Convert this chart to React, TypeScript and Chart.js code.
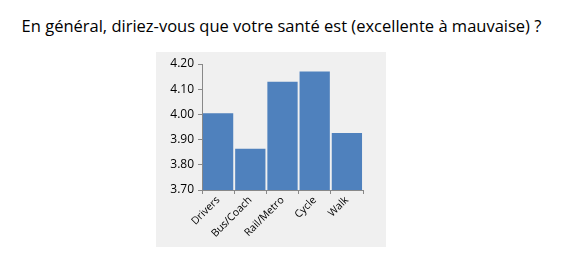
import React, { useEffect, useRef } from "react";
import { Chart, registerables } from "chart.js";

Chart.register(...registerables);

const title = "En général, diriez-vous que votre santé est (excellente à mauvaise) ?";
const categories = ["Drivers", "Bus/Coach", "Rail/Metro", "Cycle", "Walk"];
const values = [4.005, 3.864, 4.13, 4.17, 3.926];
const yMin = 3.7;
const yMax = 4.2;
const yStep = 0.1;

export default function App() {
  const ref = useRef<HTMLCanvasElement | null>(null);
  useEffect(() => {
    if (!ref.current) return;
    const chart = new Chart(ref.current, {
      type: "bar",
      data: {
        labels: categories,
        datasets: [
          {
            data: values,
            backgroundColor: "#4f81bd",
            barPercentage: 0.94,
            categoryPercentage: 1,
          },
        ],
      },
      options: {
        animation: false,
        responsive: false,
        maintainAspectRatio: false,
        layout: { padding: { top: 12, right: 23, left: 0, bottom: 0 } },
        plugins: { legend: { display: false }, tooltip: { enabled: false } },
        scales: {
          x: {
            grid: { drawOnChartArea: false, tickLength: 4, color: "#888", offset: true },
            border: { color: "#888" },
            ticks: {
              minRotation: 45,
              maxRotation: 45,
              color: "#000",
              font: { family: "Open Sans", size: 10.5 },
              padding: 0,
            },
            afterFit: (s: any) => {
              s.height = 57;
            },
          },
          y: {
            min: yMin,
            max: yMax,
            grid: { drawOnChartArea: false, tickLength: 4, color: "#888" },
            border: { color: "#888" },
            ticks: {
              stepSize: yStep,
              color: "#000",
              font: { family: "Open Sans", size: 12 },
              callback: (v: any) => Number(v).toFixed(2),
              padding: 4,
            },
            afterFit: (s: any) => {
              s.width = 46;
            },
          },
        },
      },
    });
    return () => chart.destroy();
  }, []);

  return (
    <div style={{ position: "absolute", left: 0, top: 0, width: 567, height: 263, background: "#fff" }}>
      <div
        style={{
          position: "absolute",
          left: -2,
          top: 14,
          width: 567,
          textAlign: "center",
          fontFamily: "Open Sans",
          fontSize: 16.5,
          lineHeight: "24px",
          color: "#000",
          whiteSpace: "nowrap",
        }}
      >
        {title}
      </div>
      <div style={{ position: "absolute", left: 156, top: 52, width: 230, height: 195, background: "#f0f0f0" }}>
        <canvas ref={ref} width={230} height={195} style={{ display: "block" }} />
      </div>
    </div>
  );
}
